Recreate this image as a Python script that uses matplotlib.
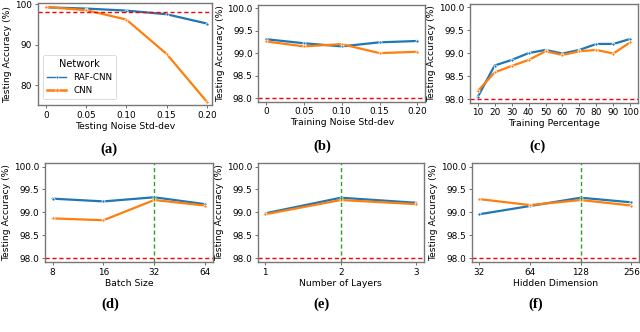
import matplotlib
matplotlib.use("Agg")
import matplotlib.pyplot as plt
from matplotlib.lines import Line2D

# ---- data ----
noise_test = [0.0, 0.05, 0.10, 0.15, 0.20]
a_raf = [99.2, 98.9, 98.4, 97.5, 95.2]
a_cnn = [99.3, 98.5, 96.2, 87.7, 75.9]

noise_train = [0.0, 0.05, 0.10, 0.15, 0.20]
b_raf = [99.31, 99.22, 99.15, 99.24, 99.27]
b_cnn = [99.26, 99.15, 99.20, 99.00, 99.03]

train_pct = [10, 20, 30, 40, 50, 60, 70, 80, 90, 100]
c_raf = [98.04, 98.73, 98.85, 99.00, 99.07, 98.99, 99.07, 99.20, 99.20, 99.31]
c_cnn = [98.17, 98.58, 98.72, 98.85, 99.04, 98.96, 99.04, 99.07, 98.99, 99.24]

batch_labels = ["8", "16", "32", "64"]
d_raf = [99.30, 99.24, 99.33, 99.18]
d_cnn = [98.87, 98.83, 99.27, 99.15]

layer_labels = ["1", "2", "3"]
e_raf = [98.98, 99.32, 99.21]
e_cnn = [98.96, 99.27, 99.18]

hidden_labels = ["32", "64", "128", "256"]
f_raf = [98.96, 99.14, 99.32, 99.22]
f_cnn = [99.29, 99.16, 99.27, 99.15]

baseline = 98.0
best_idx = {"d": 2, "e": 1, "f": 2}
panel_names = ["(a)", "(b)", "(c)", "(d)", "(e)", "(f)"]
xlabels = ["Testing Noise Std-dev", "Training Noise Std-dev", "Training Percentage",
           "Batch Size", "Number of Layers", "Hidden Dimension"]
ylabel = "Testing Accuracy (%)"

BLUE = "#1f77b4"
ORANGE = "#ff7f0e"

W, H = 640, 332
fig = plt.figure(figsize=(W / 100, H / 100), dpi=100)


def add_ax(l, r, t, b):
    return fig.add_axes([l / W, 1 - b / H, (r - l) / W, (b - t) / H])


def style(ax):
    for s in ax.spines.values():
        s.set_color("#777777")
        s.set_linewidth(1.0)
    ax.tick_params(axis="both", labelsize=6.4, length=2.5, width=0.6,
                   color="#555555", pad=1.5)
    ax.set_ylabel(ylabel, fontsize=6.7, labelpad=2)


def plot_pair(ax, x, raf, cnn):
    kw = dict(lw=1.6, marker="o", ms=2.2, mec="white", mew=0.5, solid_capstyle="round")
    ax.plot(x, raf, color=BLUE, **kw)
    ax.plot(x, cnn, color=ORANGE, **kw)


rects = [
    (37.7, 211.7, 3.3, 105.0),
    (258.3, 425.0, 5.0, 101.7),
    (470.0, 638.0, 4.0, 102.7),
    (45.0, 212.7, 163.3, 262.0),
    (257.7, 424.0, 163.3, 262.0),
    (471.7, 639.0, 163.3, 262.0),
]
label_pos = [(109, 149), (322, 146), (537, 146), (110, 304), (322, 304), (536, 304)]

axes = [add_ax(*r) for r in rects]

# (a)
ax = axes[0]
plot_pair(ax, noise_test, a_raf, a_cnn)
ax.axhline(baseline, color="red", ls="--", lw=1.0, dashes=(3, 2))
ax.set_xlim(-0.01, 0.206)
ax.set_ylim(75.1, 100.2)
ax.set_yticks([80, 90, 100])
ax.set_xticks(noise_test)
ax.set_xticklabels(["0", "0.05", "0.10", "0.15", "0.20"])
style(ax)
handles = [Line2D([], [], color=BLUE, lw=1.0, marker="o", ms=2.0, mec="white", mew=0.4),
           Line2D([], [], color=ORANGE, lw=1.8, marker="o", ms=2.5, mec="white", mew=0.4)]
leg = ax.legend(handles, ["RAF-CNN", "CNN"], title="Network", loc="lower left",
                fontsize=6.3, title_fontsize=7, frameon=True, handlelength=2.2,
                borderpad=0.45, labelspacing=0.45, bbox_to_anchor=(0.005, 0.02))
leg.get_frame().set_edgecolor("#cccccc")
leg.get_frame().set_linewidth(0.6)

# (b)
ax = axes[1]
plot_pair(ax, noise_train, b_raf, b_cnn)
ax.set_xticks(noise_train)
ax.set_xticklabels(["0", "0.05", "0.10", "0.15", "0.20"])

# (c)
ax = axes[2]
plot_pair(ax, train_pct, c_raf, c_cnn)
ax.set_xticks(train_pct)

# (d)
ax = axes[3]
plot_pair(ax, range(len(batch_labels)), d_raf, d_cnn)
ax.set_xticks(range(len(batch_labels)))
ax.set_xticklabels(batch_labels)
ax.axvline(best_idx["d"], color="#2ca02c", ls="--", lw=1.0, dashes=(3, 2))

# (e)
ax = axes[4]
plot_pair(ax, range(len(layer_labels)), e_raf, e_cnn)
ax.set_xticks(range(len(layer_labels)))
ax.set_xticklabels(layer_labels)
ax.axvline(best_idx["e"], color="#2ca02c", ls="--", lw=1.0, dashes=(3, 2))

# (f)
ax = axes[5]
plot_pair(ax, range(len(hidden_labels)), f_raf, f_cnn)
ax.set_xticks(range(len(hidden_labels)))
ax.set_xticklabels(hidden_labels)
ax.axvline(best_idx["f"], color="#2ca02c", ls="--", lw=1.0, dashes=(3, 2))

for ax in axes[1:]:
    ax.axhline(baseline, color="red", ls="--", lw=1.0, dashes=(3, 2))
    ax.set_ylim(97.92, 100.07)
    ax.set_yticks([98.0, 98.5, 99.0, 99.5, 100.0])
    ax.set_yticklabels(["98.0", "98.5", "99.0", "99.5", "100.0"])
    style(ax)

for ax, xl in zip(axes, xlabels):
    ax.set_xlabel(xl, fontsize=6.7, labelpad=1.5)

for name, (px, py) in zip(panel_names, label_pos):
    fig.text(px / W, 1 - py / H, name, ha="center", va="center",
             fontsize=10.5, fontweight="bold", family="Liberation Serif")

fig.savefig("out.png", dpi=100)
